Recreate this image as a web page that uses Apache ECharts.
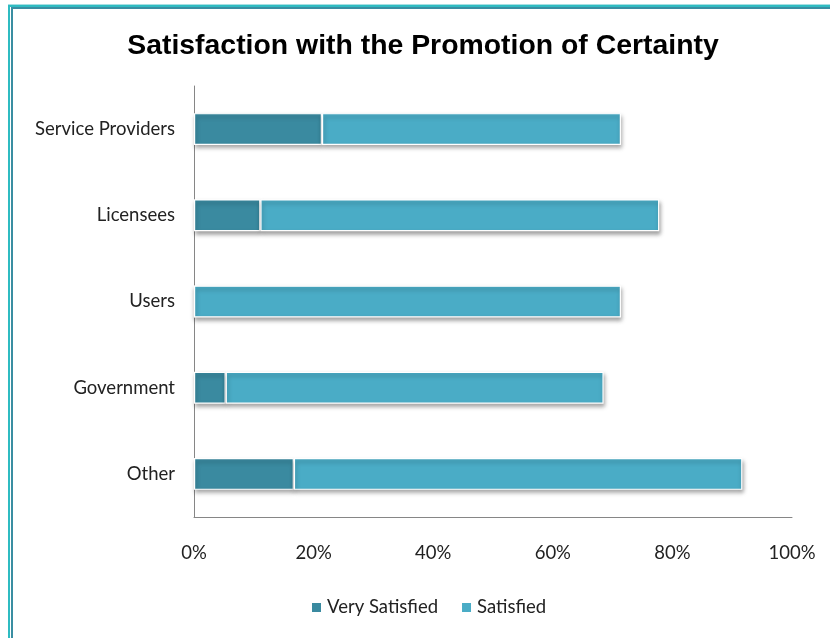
<!DOCTYPE html>
<html>
<head>
<meta charset="utf-8">
<script src="https://cdn.jsdelivr.net/npm/echarts@6/dist/echarts.min.js"></script>
<style>
  html, body { margin: 0; padding: 0; background: #ffffff; }
  #chart { position: absolute; left: 0; top: 0; width: 830px; height: 638px; }
</style>
</head>
<body>
<div id="chart"></div>
<script>
// Survey groups, top to bottom
const categories = ['Service Providers', 'Licensees', 'Users', 'Government', 'Other'];
// Share of respondents (%)
const verySatisfied = [21.4, 11.1, 0, 5.3, 16.7];
const satisfied = [50.0, 66.7, 71.4, 63.2, 75.0];
const seriesNames = ['Very Satisfied', 'Satisfied'];
const xTicks = { min: 0, max: 100, interval: 20 };

const labelFont = 'Lato, "Open Sans", sans-serif';
const labelSize = 18.5;
const barStyle = (color) => ({
  color: color,
  borderColor: '#ffffff',
  borderWidth: 1.2,
  shadowColor: 'rgba(0,0,0,0.35)',
  shadowBlur: 4,
  shadowOffsetX: 1,
  shadowOffsetY: 3
});

const chart = echarts.init(document.getElementById('chart'), null, { renderer: 'canvas' });
chart.setOption({
  animation: false,
  backgroundColor: '#ffffff',
  title: {
    text: 'Satisfaction with the Promotion of Certainty',
    left: 418,
    textAlign: 'center',
    top: 27,
    textStyle: {
      fontFamily: '"Liberation Sans", Arial, sans-serif',
      fontWeight: 'bold',
      fontSize: 28.4,
      color: '#000000'
    }
  },
  // double frame along the top and left edges
  graphic: [
    { type: 'rect', shape: { x: 8, y: 5, width: 2, height: 640 }, style: { fill: '#2fbcc2' } },
    { type: 'rect', shape: { x: 11, y: 7, width: 2, height: 640 }, style: { fill: '#3a8ea2' } },
    { type: 'rect', shape: { x: 8, y: 4, width: 830, height: 1 }, style: { fill: '#a6dfe2' } },
    { type: 'rect', shape: { x: 8, y: 5, width: 830, height: 2 }, style: { fill: '#2fbcc2' } },
    { type: 'rect', shape: { x: 11, y: 7, width: 830, height: 2 }, style: { fill: '#3a8ea2' } }
  ],
  grid: { left: 194, right: 38, top: 86, bottom: 121, containLabel: false },
  legend: {
    bottom: 16,
    left: 305,
    itemWidth: 11,
    itemHeight: 11,
    itemGap: 22,
    icon: 'rect',
    textStyle: { fontFamily: labelFont, fontSize: labelSize, color: '#222222' },
    data: seriesNames
  },
  xAxis: {
    type: 'value',
    min: xTicks.min,
    max: xTicks.max,
    interval: xTicks.interval,
    axisLine: { show: true, lineStyle: { color: '#868686', width: 1 } },
    axisTick: { show: false },
    splitLine: { show: false },
    axisLabel: {
      formatter: '{value}%',
      fontFamily: labelFont,
      fontSize: labelSize,
      color: '#222222',
      margin: 27
    }
  },
  yAxis: {
    type: 'category',
    data: categories,
    inverse: true,
    axisLine: { show: true, lineStyle: { color: '#868686', width: 1 } },
    axisTick: { show: false },
    axisLabel: {
      fontFamily: labelFont,
      fontSize: labelSize,
      color: '#222222',
      margin: 19
    }
  },
  series: [
    {
      name: seriesNames[0],
      type: 'bar',
      stack: 'total',
      barWidth: '37%',
      itemStyle: barStyle('#3a8aa0'),
      data: verySatisfied
    },
    {
      name: seriesNames[1],
      type: 'bar',
      stack: 'total',
      barWidth: '37%',
      itemStyle: barStyle('#4aacc6'),
      data: satisfied
    }
  ]
});
</script>
</body>
</html>
